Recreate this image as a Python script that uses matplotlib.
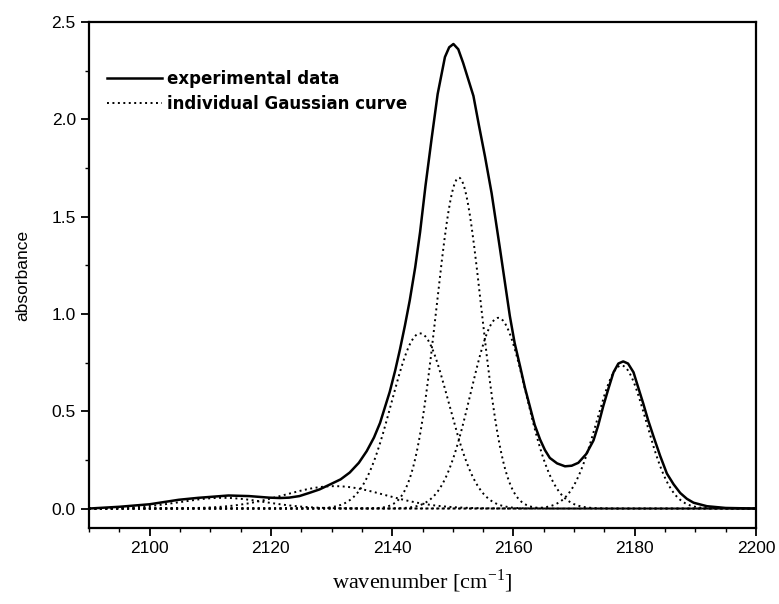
import numpy as np
import matplotlib
matplotlib.use("Agg")
import matplotlib.pyplot as plt
from matplotlib.ticker import MultipleLocator, FormatStrFormatter

# experimental spectrum
exp_wn = [2090, 2095, 2100, 2104.8, 2108, 2113, 2116.4, 2119.7, 2121.5, 2123,
          2124.7, 2126.3, 2128, 2129.7, 2131.5, 2133, 2134.5, 2135.8, 2137, 2138,
          2139.6, 2140.5, 2141.3, 2142.1, 2142.9, 2143.8, 2144.6, 2145.5, 2146.5,
          2147.5, 2148.7, 2149.4, 2150.1, 2150.9, 2151.7, 2152.5, 2153.4, 2154.3,
          2155.3, 2156.4, 2157.8, 2158.6, 2159.4, 2160.2, 2161.1, 2161.9, 2162.7,
          2163.5, 2164.4, 2165.2, 2166.0, 2167.2, 2168.5, 2169.6, 2170.7, 2172,
          2173.2, 2174, 2174.8, 2175.7, 2176.5, 2177.3, 2178.1, 2178.9, 2179.8,
          2180.6, 2181.4, 2182.2, 2183.1, 2184.2, 2185.3, 2186.4, 2187.5, 2188.6,
          2189.7, 2191.9, 2195, 2200]
exp_abs = [0.0, 0.009, 0.022, 0.045, 0.055, 0.067, 0.064, 0.056, 0.054, 0.056,
           0.064, 0.08, 0.098, 0.123, 0.150, 0.185, 0.235, 0.295, 0.365, 0.44,
           0.60, 0.71, 0.82, 0.94, 1.07, 1.24, 1.42, 1.66, 1.90,
           2.13, 2.32, 2.37, 2.387, 2.36, 2.29, 2.21, 2.12, 1.97,
           1.81, 1.62, 1.33, 1.16, 0.99, 0.85, 0.73, 0.62, 0.525,
           0.43, 0.354, 0.30, 0.26, 0.232, 0.217, 0.22, 0.235, 0.28,
           0.35, 0.43, 0.525, 0.62, 0.70, 0.745, 0.756, 0.745, 0.70,
           0.62, 0.54, 0.455, 0.37, 0.27, 0.18, 0.125, 0.08, 0.05,
           0.03, 0.012, 0.003, 0.0]

# fitted Gaussian components: centre, height, sigma
g_center = [2112.0, 2130.5, 2144.6, 2151.0, 2157.5, 2177.8]
g_height = [0.055, 0.115, 0.90, 1.70, 0.98, 0.735]
g_sigma = [7.0, 8.3, 4.7, 3.7, 4.55, 4.1]

plt.rcParams['font.family'] = ['Liberation Sans', 'DejaVu Sans']

fig = plt.figure(figsize=(7.79, 6.04), dpi=100)
ax = fig.add_axes([89 / 779, 1 - 528 / 604, 667 / 779, 506 / 604])

wn = np.linspace(2090, 2200, 1101)
for i, (c, h, s) in enumerate(zip(g_center, g_height, g_sigma)):
    ax.plot(wn, h * np.exp(-(wn - c) ** 2 / (2 * s ** 2)), color='black',
            linestyle=(0, (1, 1.8)), linewidth=1.4,
            label='individual Gaussian curve' if i == 0 else None)

ax.plot(exp_wn, exp_abs, color='black', linewidth=1.8, label='experimental data',
        solid_joinstyle='round')

ax.set_xlim(2090, 2200)
ax.set_ylim(-0.1, 2.5)
ax.xaxis.set_major_locator(MultipleLocator(20))
ax.xaxis.set_minor_locator(MultipleLocator(5))
ax.yaxis.set_major_locator(MultipleLocator(0.5))
ax.yaxis.set_minor_locator(MultipleLocator(0.25))
ax.yaxis.set_major_formatter(FormatStrFormatter('%.1f'))
ax.tick_params(which='major', direction='out', length=6, width=1.3, labelsize=12.5)
ax.tick_params(which='minor', direction='out', length=3, width=1.0)
for sp in ax.spines.values():
    sp.set_linewidth(1.6)

ax.set_ylabel('absorbance', fontsize=12.5, labelpad=15)
ax.set_xlabel(r'wavenumber [cm$^{\mathregular{-1}}$]', fontsize=16,
              family='Liberation Serif', labelpad=8)

handles, labels = ax.get_legend_handles_labels()
leg = ax.legend(handles[::-1], labels[::-1], loc='upper left',
                bbox_to_anchor=(18 / 667, 0.905), frameon=False,
                prop={'family': 'DejaVu Sans', 'weight': 'bold', 'size': 12},
                handlelength=3.3, handletextpad=0.3, labelspacing=0.4,
                borderpad=0, borderaxespad=0)

fig.savefig('out.png', dpi=100)
